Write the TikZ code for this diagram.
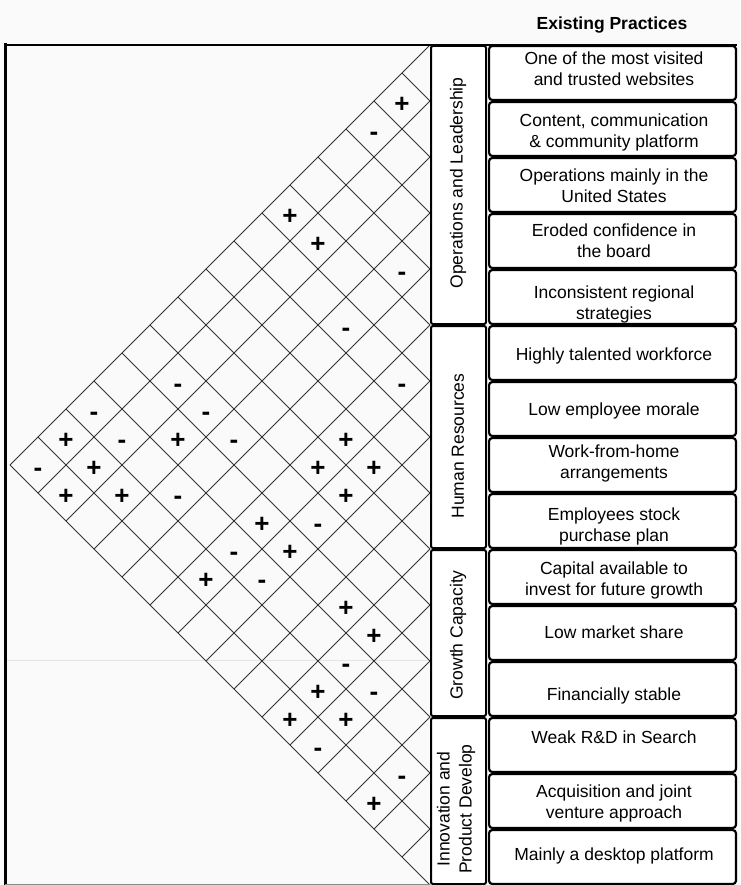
\documentclass[tikz,border=0pt]{standalone}
\usepackage{fontspec}
\setmainfont{Liberation Sans}
\begin{document}
\begin{tikzpicture}[x=1pt,y=-1pt,
  gridline/.style={line width=0.9pt, draw=black!80},
  pbox/.style={draw=black, line width=2.2pt, rounded corners=3pt, fill=white,
    minimum width=246.8pt, minimum height=53.8pt, inner sep=0pt},
  cbox/.style={draw=black, line width=2pt, rounded corners=2pt, fill=white,
    minimum width=55pt, inner sep=0pt},
  ptext/.style={font=\fontsize{17.5}{21}\selectfont, align=center, inner sep=0pt},
  ctext/.style={font=\fontsize{17.5}{22}\selectfont, align=center, rotate=90, inner sep=0pt},
  signmark/.style={font=\bfseries\fontsize{26}{26}\selectfont, anchor=base, inner sep=0pt},
  hdr/.style={font=\bfseries\fontsize{17.5}{21}\selectfont}
]
% page and background
\useasboundingbox (0,0) rectangle (740,885);
\fill[black!2] (0,0) rectangle (740,885);

% header
\node[hdr] (header) at (612,25) {Existing Practices};

% faint rule behind the roof
\draw[black!10, line width=0.8pt] (5,660) -- (430,660);

% correlation roof: lines from every row boundary on the right edge
\foreach \k in {0,...,15} {
  \draw[gridline] (430,{45+56*\k}) -- ({430-28*\k},{45+28*\k});
  \draw[gridline] (430,{45+56*\k}) -- ({430-28*(15-\k)},{885-28*(15-\k)});
}

% positive correlations
\foreach \i/\j in {1/2,1/6,2/6,1/14,3/12,6/9,2/14,6/10,7/9,2/15,3/14,7/10,6/12,7/12,6/14,
                   9/12,10/12,10/14,10/15,11/14,13/15}
  \node[signmark] (p\i-\j) at ({430-28*(\j-\i)},{17+28*(\i+\j)+11.5}) {+};
% negative correlations
\foreach \i/\j in {1/3,4/5,4/7,2/11,6/7,1/13,3/11,2/13,4/11,1/15,4/13,7/11,6/13,7/13,
                   10/13,11/13,11/15,13/14}
  \node[signmark] (n\i-\j) at ({430-28*(\j-\i)},{17+28*(\i+\j)+11.5}) {-};

% outer frame
\draw[line width=2pt] (5,45) -- (737,45);
\draw[line width=3pt] (5,43.5) -- (5,885);
\draw[black!45, line width=0.8pt] (5,884.5) -- (430,884.5);

% category column
\node[cbox, minimum height=278pt] (catops) at (458.5,185) {};
\node[cbox, minimum height=222pt] (cathr) at (458.5,437) {};
\node[cbox, minimum height=166pt] (catgrowth) at (458.5,633) {};
\node[cbox, minimum height=166pt] (catinno) at (458.5,801) {};
\node[ctext] (lblops) at (458,183) {Operations and Leadership};
\node[ctext] (lblhr) at (458,446) {Human Resources};
\node[ctext] (lblgrowth) at (458,635) {Growth Capacity};
\node[ctext] (lblinno) at (456,809) {Innovation and\\Product Develop};

% practice boxes
\foreach \k in {1,...,15}
  \node[pbox] (box\k) at (612.5,{45+56*\k-28}) {};

% practice texts
\node[ptext] (t1) at (614,68.5) {One of the most visited\\and trusted websites};
\node[ptext] (t2) at (614,132.5) {Content, communication\\\& community platform};
\node[ptext] (t3) at (614,185.5) {Operations mainly in the\\United States};
\node[ptext] (t4) at (614,240.5) {Eroded confidence in\\the board};
\node[ptext] (t5) at (614,304.5) {Inconsistent regional\\strategies};
\node[ptext] (t6) at (614,356) {Highly talented workforce};
\node[ptext] (t7) at (614,411) {Low employee morale};
\node[ptext] (t8) at (614,463) {Work-from-home\\arrangements};
\node[ptext] (t9) at (614,526) {Employees stock\\purchase plan};
\node[ptext] (t10) at (614,580.5) {Capital available to\\invest for future growth};
\node[ptext] (t11) at (614,632) {Low market share};
\node[ptext] (t12) at (614,696) {Financially stable};
\node[ptext] (t13) at (614,737) {Weak R\&D in Search};
\node[ptext] (t14) at (614,803) {Acquisition and joint\\venture approach};
\node[ptext] (t15) at (614,856) {Mainly a desktop platform};
\end{tikzpicture}
\end{document}
